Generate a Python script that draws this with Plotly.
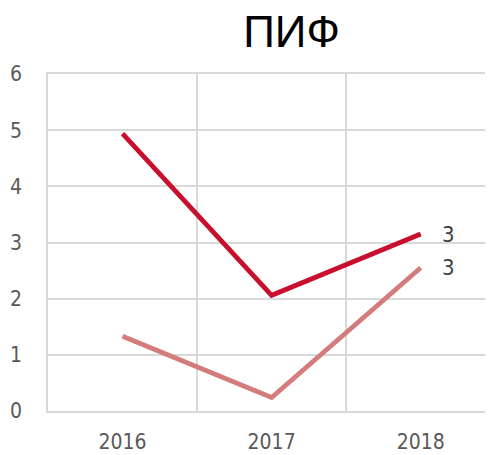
import plotly.graph_objects as go

title = "ПИФ"
years = ["2016", "2017", "2018"]
series_a = [4.94, 2.06, 3.15]
series_b = [1.33, 0.24, 2.55]
y_ticks = [0, 1, 2, 3, 4, 5, 6]

xpos = list(range(len(years)))
tick_font = dict(family="DejaVu Sans Condensed, DejaVu Sans", size=21, color="#595959")
grid = "#D9D9D9"

# page body has an 8px margin, so the figure is sized to fit inside the window
W, H = 485, 447

fig = go.Figure()
fig.add_trace(go.Scatter(x=xpos, y=series_b, mode="lines",
                         line=dict(color="#D47C7C", width=4.8), hoverinfo="skip"))
fig.add_trace(go.Scatter(x=xpos, y=series_a, mode="lines",
                         line=dict(color="#C8102E", width=4.8), hoverinfo="skip"))

for s in (series_a, series_b):
    fig.add_annotation(x=xpos[-1], y=s[-1], xref="x", yref="y",
                       text=str(int(round(s[-1]))), showarrow=False,
                       xanchor="left", yanchor="middle", xshift=19,
                       font=dict(family="DejaVu Sans Condensed, DejaVu Sans", size=22, color="#404040"))

fig.update_layout(
    width=W, height=H,
    margin=dict(l=40, r=0, t=66, b=44, autoexpand=False),
    paper_bgcolor="white", plot_bgcolor="white",
    showlegend=False,
    title=dict(text=title, x=283.5/W, xanchor="center", xref="container",
               y=1-24/H, yanchor="middle", yref="container", automargin=False,
               font=dict(family="Liberation Sans, Arial", size=44, color="#000000")),
    xaxis=dict(range=[-0.5, 2.485], tickvals=xpos, ticktext=years,
               showgrid=False, zeroline=False, ticks="", tickfont=tick_font,
               ticklabelstandoff=11, automargin=False,
               showline=True, linecolor=grid, linewidth=1.5, mirror=True,
               minor=dict(tickvals=[-0.5, 0.5, 1.5, 2.5], showgrid=True,
                          gridcolor=grid, gridwidth=1.5, ticks="")),
    yaxis=dict(range=[0, 6], tickvals=y_ticks, showgrid=True, gridcolor=grid,
               gridwidth=1.5, zeroline=False, ticks="", tickfont=tick_font,
               ticklabelstandoff=20, automargin=False,
               showline=True, linecolor=grid, linewidth=1.5),
)

fig.write_html("out.html")
